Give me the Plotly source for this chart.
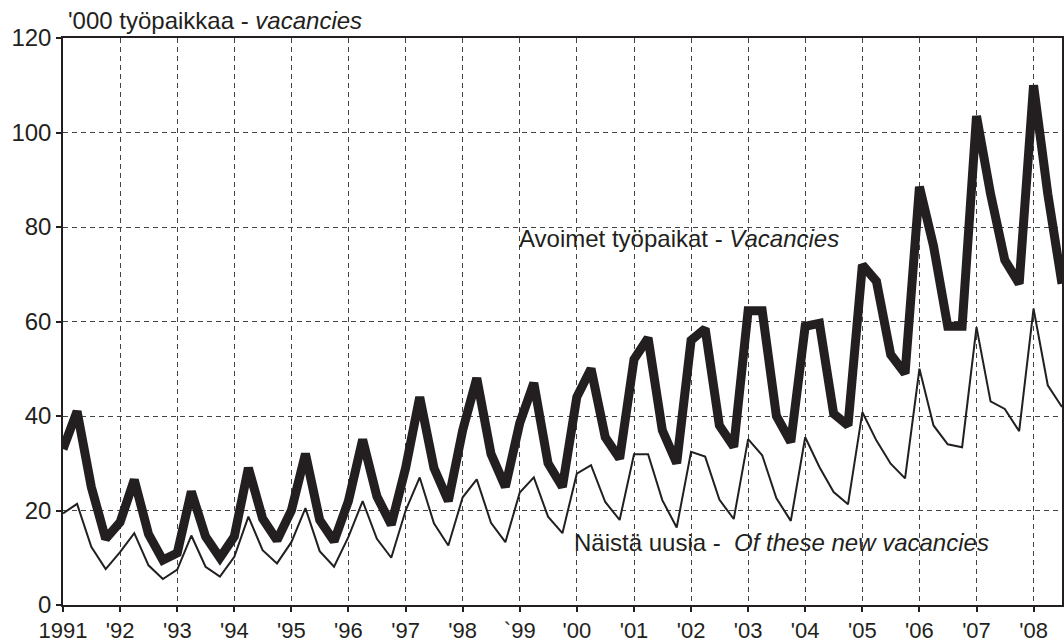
import pandas as pd
import plotly.graph_objects as go

INK = "#231f20"
FONT = "Liberation Sans, Arial, Helvetica, sans-serif"

# quarterly observations, 1991 Q1 .. 2008 Q3
QUARTERS = pd.date_range("1991-01-01", periods=71, freq="QS")

# Avoimet työpaikat - Vacancies ('000)
VACANCIES = [
    33, 41, 25, 14,
    17.5, 26.5, 15, 9.5,
    11, 24, 14.5, 10,
    14.5, 29, 18.3, 13.7,
    20, 32, 18, 13.5,
    22, 35, 23, 17,
    29, 44, 29, 22,
    37, 48, 32, 25,
    38.5, 47, 30, 25,
    44, 50, 35.5, 31,
    52, 56.5, 37, 30,
    56, 58.5, 38, 33.5,
    62.3, 62.3, 40, 34.5,
    59, 59.6, 40.5, 38,
    72, 68.5, 53, 49,
    88.5, 76, 59, 59,
    103.5, 87, 73, 68,
    110, 87, 68,
]

# Näistä uusia - Of these new vacancies ('000)
NEW_VACANCIES = [
    19.4, 21.4, 12.3, 7.6,
    11.2, 15.2, 8.4, 5.5,
    7.5, 14.7, 8.1, 6.0,
    10.2, 18.7, 11.6, 8.8,
    13.3, 20.5, 11.4, 8.1,
    14.4, 22.0, 14.0, 10.0,
    20.0, 27.0, 17.3, 12.6,
    22.8, 26.6, 17.4, 13.3,
    23.8, 27.0, 18.7, 15.2,
    27.8, 29.6, 21.8, 18.0,
    31.9, 31.9, 22.2, 16.4,
    32.4, 31.4, 22.3, 18.2,
    35.1, 31.7, 22.6, 17.8,
    35.5, 29.2, 23.9, 21.3,
    40.8, 34.8, 29.9, 26.8,
    50.0, 38.0, 34.0, 33.4,
    58.8, 43.1, 41.5, 36.8,
    62.7, 46.5, 41.9,
]

YEAR_TICKS = [f"{y}-01-01" for y in range(1991, 2009)]
YEAR_LABELS = ["1991", "'92", "'93", "'94", "'95", "'96", "'97", "'98", "`99",
               "'00", "'01", "'02", "'03", "'04", "'05", "'06", "'07", "'08"]
Y_TICKS = [0, 20, 40, 60, 80, 100, 120]

fig = go.Figure()
fig.add_trace(go.Scatter(
    x=QUARTERS, y=NEW_VACANCIES, mode="lines",
    line=dict(color=INK, width=2),
    name="Näistä uusia - Of these new vacancies",
))
fig.add_trace(go.Scatter(
    x=QUARTERS, y=VACANCIES, mode="lines",
    line=dict(color=INK, width=9),
    name="Avoimet työpaikat - Vacancies",
))

axis_common = dict(
    showline=True, linecolor=INK, linewidth=1.5, mirror=True,
    ticks="outside", ticklen=5, tickwidth=1.5, tickcolor=INK,
    showgrid=True, gridcolor="#444444", gridwidth=1, griddash="5px,4px",
    zeroline=False, layer="above traces", automargin=False,
)

fig.update_xaxes(
    **axis_common,
    range=["1991-01-01", "2008-07-01"],
    tickvals=YEAR_TICKS, ticktext=YEAR_LABELS,
    tickfont=dict(family=FONT, size=22, color=INK),
)
fig.update_yaxes(
    **axis_common,
    range=[0, 120], tickvals=Y_TICKS,
    tickfont=dict(family=FONT, size=24, color=INK),
)

label_font = dict(family=FONT, size=24, color=INK)
fig.add_annotation(
    x=0.003, xref="paper", y=1.03, yref="paper",
    text="'000 työpaikkaa - <i>vacancies</i>",
    showarrow=False, xanchor="left", yanchor="middle", font=label_font,
)
fig.add_annotation(
    x="1998-12-15", y=77.5,
    text="Avoimet työpaikat - <i>Vacancies</i>",
    showarrow=False, xanchor="left", yanchor="middle", font=label_font,
)
fig.add_annotation(
    x="1999-12-01", y=13.3,
    text="Näistä uusia -  <i>Of these new vacancies</i>",
    showarrow=False, xanchor="left", yanchor="middle", font=label_font,
)

fig.update_layout(
    width=1064, height=643,
    margin=dict(l=63, r=2, t=38, b=38),
    paper_bgcolor="white", plot_bgcolor="white",
    showlegend=False,
    font=dict(family=FONT, color=INK),
)

# drop the default page margin so the chart sits at the window's corner
fig.write_html(
    "out.html",
    config={"displayModeBar": False},
    post_script="document.body.style.margin='0';",
)
